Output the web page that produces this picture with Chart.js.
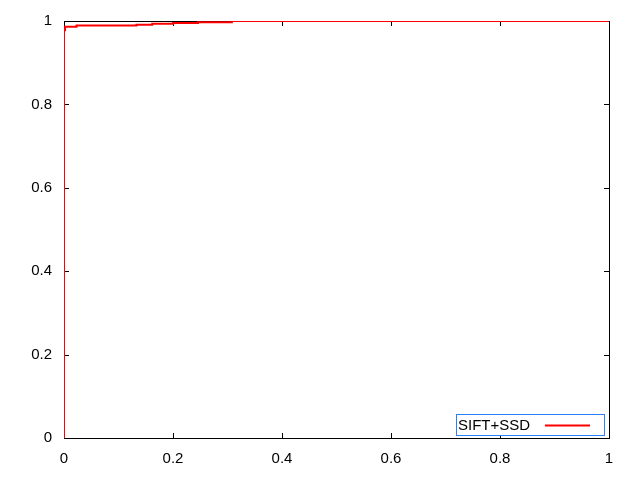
<!DOCTYPE html>
<html>
<head>
<meta charset="utf-8">
<script src="https://cdn.jsdelivr.net/npm/chart.js@4/dist/chart.umd.min.js"></script>
<style>
    html, body { margin: 0; padding: 0; background: #fff; }
    #wrap { width: 640px; height: 480px; }
</style>
</head>
<body>
<div id="wrap"><canvas id="chart1"></canvas></div>
<script>
// ROC curve points (false positive rate, true positive rate)
const fpr = [0, 0, 0.002, 0.023, 0.133, 0.162, 0.2, 0.246, 0.308, 0.727, 1]
const tpr = [0, 0.966, 0.978, 0.986, 0.989, 0.991, 0.9935, 0.995, 0.997, 1, 1]
const seriesName = 'SIFT+SSD'
const tickValues = [0, 0.2, 0.4, 0.6, 0.8, 1]

const fontFamily = '"Liberation Sans", Arial, sans-serif'
const fontSize = 15

// gnuplot style: frame plus small inward ticks on all four sides
const framePlugin = {
    id: 'frame',
    beforeDatasetsDraw(chart) {
        const { ctx, chartArea: a, scales: { x, y } } = chart
        const len = 5
        ctx.save()
        ctx.strokeStyle = '#000'
        ctx.lineWidth = 1
        ctx.beginPath()
        tickValues.forEach(v => {
            const px = Math.round(x.getPixelForValue(v)) + 0.5
            ctx.moveTo(px, a.bottom); ctx.lineTo(px, a.bottom - len)
            ctx.moveTo(px, a.top); ctx.lineTo(px, a.top + len)
            const py = Math.round(y.getPixelForValue(v)) + 0.5
            ctx.moveTo(a.left, py); ctx.lineTo(a.left + len, py)
            ctx.moveTo(a.right, py); ctx.lineTo(a.right - len, py)
        })
        ctx.stroke()
        ctx.strokeRect(Math.round(a.left) + 0.5, Math.round(a.top) + 0.5,
            Math.round(a.right - a.left), Math.round(a.bottom - a.top))
        ctx.restore()
    },
    afterDatasetsDraw(chart) {
        const { ctx, chartArea: a } = chart
        const ds = chart.data.datasets[0]
        const boxW = 148, boxH = 21
        const bx = a.right - 153, by = a.bottom - 24
        ctx.save()
        ctx.fillStyle = '#fff'
        ctx.fillRect(bx, by, boxW, boxH)
        ctx.strokeStyle = '#2a7fff'
        ctx.lineWidth = 1
        ctx.strokeRect(bx + 0.5, by + 0.5, boxW, boxH)
        ctx.fillStyle = '#000'
        ctx.font = `${fontSize}px ${fontFamily}`
        ctx.textBaseline = 'middle'
        ctx.fillText(ds.label, bx + 2, by + boxH / 2 + 1)
        ctx.strokeStyle = ds.borderColor
        ctx.lineWidth = 2
        ctx.beginPath()
        ctx.moveTo(bx + 89, by + boxH / 2 + 1)
        ctx.lineTo(bx + 134, by + boxH / 2 + 1)
        ctx.stroke()
        ctx.restore()
    }
}

const data = {
    datasets: [{
        label: seriesName,
        data: fpr.map((v, i) => ({ x: v, y: tpr[i] })),
        borderColor: '#ff0000',
        borderWidth: 2,
        pointRadius: 0,
        stepped: 'after',
        fill: false
    }]
}

const options = {
    responsive: true,
    maintainAspectRatio: false,
    animation: false,
    layout: {
        padding: { left: 0, top: 20, right: 31, bottom: 0 }
    },
    plugins: {
        legend: { display: false },
        tooltip: { enabled: false }
    },
    scales: {
        x: {
            type: 'linear',
            min: 0,
            max: 1,
            afterBuildTicks: scale => { scale.ticks = tickValues.map(v => ({ value: v })) },
            afterFit: scale => { scale.height = 42 },
            grid: { display: false, drawTicks: false },
            border: { display: false },
            ticks: {
                color: '#000',
                font: { family: fontFamily, size: fontSize },
                padding: 12,
                maxRotation: 0,
                autoSkip: false,
                callback: v => String(v)
            }
        },
        y: {
            type: 'linear',
            min: 0,
            max: 1,
            afterBuildTicks: scale => { scale.ticks = tickValues.map(v => ({ value: v })) },
            afterFit: scale => { scale.width = 64 },
            grid: { display: false, drawTicks: false },
            border: { display: false },
            ticks: {
                color: '#000',
                font: { family: fontFamily, size: fontSize },
                padding: 12,
                autoSkip: false,
                callback: v => String(v)
            }
        }
    }
}

new Chart('chart1', { type: 'line', data, options, plugins: [framePlugin] })
</script>
</body>
</html>
